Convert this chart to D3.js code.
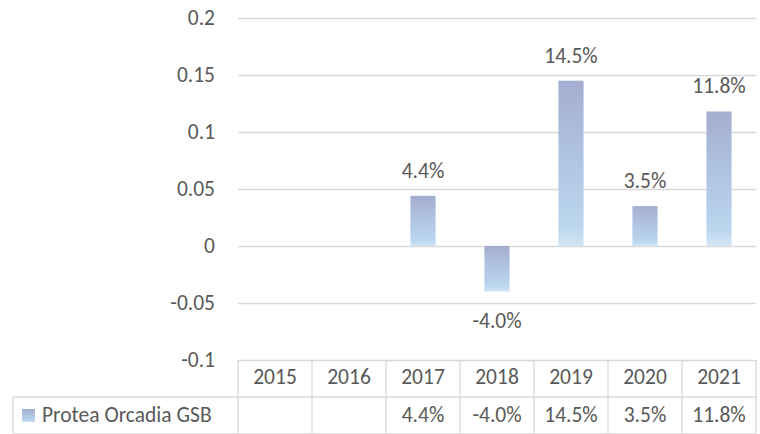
<!DOCTYPE html>
<html>
<head>
<meta charset="utf-8">
<script src="https://cdn.jsdelivr.net/npm/d3@7"></script>
<style>
  html, body { margin: 0; padding: 0; background: #fff; }
  svg text { font-family: Carlito, Calibri, "Open Sans", sans-serif; fill: #595959; }
  .grid line { stroke: #d9d9d9; stroke-width: 1.3; }
  .table-line { stroke: #d9d9d9; stroke-width: 1.3; }
</style>
</head>
<body>
<svg id="chart" width="760" height="434"></svg>
<script>
// chart data
const years = ['2015', '2016', '2017', '2018', '2019', '2020', '2021'];
const returns = [null, null, 0.044, -0.040, 0.145, 0.035, 0.118];
const yTicks = [0.2, 0.15, 0.1, 0.05, 0, -0.05, -0.1];
const seriesName = 'Protea Orcadia GSB';

const svg = d3.select('#chart');

// plot box
const plotLeft = 238, plotRight = 756, plotTop = 18, plotBottom = 360;
const rowH = 37;
const fontSize = 21.5;

const pct = d3.formatLocale({
  decimal: '.', thousands: ',', grouping: [3], currency: ['', ''], minus: '-'
}).format('.1%');

const x = d3.scaleBand().domain(years).range([plotLeft, plotRight])
  .paddingInner(0.66).paddingOuter(0.33);
const xCol = d3.scaleBand().domain(years).range([plotLeft, plotRight]);
const y = d3.scaleLinear().domain([-0.1, 0.2]).range([plotBottom, plotTop]);

// gradient for bars
const defs = svg.append('defs');
const grad = defs.append('linearGradient')
  .attr('id', 'barGrad')
  .attr('x1', 0).attr('y1', 0).attr('x2', 0).attr('y2', 1);
grad.append('stop').attr('offset', '0%').attr('stop-color', '#a4adcf');
grad.append('stop').attr('offset', '45%').attr('stop-color', '#afc3e3');
grad.append('stop').attr('offset', '88%').attr('stop-color', '#bbd6ee');
grad.append('stop').attr('offset', '100%').attr('stop-color', '#d3e5f5');

// y axis with gridlines
const yAxis = svg.append('g')
  .attr('class', 'grid')
  .attr('transform', `translate(${plotLeft},0)`)
  .call(d3.axisLeft(y)
    .tickValues(yTicks)
    .tickSize(-(plotRight - plotLeft))
    .tickPadding(23)
    .tickFormat(d => String(d)));
yAxis.select('.domain').remove();
yAxis.selectAll('text')
  .style('font-size', fontSize + 'px')
  .attr('fill', null);

// bars
const data = years.map((yr, i) => ({ year: yr, value: returns[i] }))
  .filter(d => d.value !== null);

svg.append('g').selectAll('rect').data(data)
  .enter().append('rect')
    .attr('x', d => x(d.year))
    .attr('width', x.bandwidth())
    .attr('y', d => y(Math.max(0, d.value)))
    .attr('height', d => Math.abs(y(d.value) - y(0)))
    .attr('fill', 'url(#barGrad)');

// data labels
svg.append('g').selectAll('text').data(data)
  .enter().append('text')
    .attr('x', d => x(d.year) + x.bandwidth() / 2)
    .attr('y', d => d.value >= 0 ? y(d.value) - 18 : y(d.value) + 36)
    .attr('text-anchor', 'middle')
    .style('font-size', fontSize + 'px')
    .text(d => pct(d.value));

// data table
const table = svg.append('g');
const row1 = plotBottom, row2 = plotBottom + rowH, row3 = plotBottom + 2 * rowH;
const legendLeft = 13;

table.append('line').attr('class', 'table-line')
  .attr('x1', legendLeft).attr('x2', plotRight).attr('y1', row2).attr('y2', row2);
table.append('line').attr('class', 'table-line')
  .attr('x1', legendLeft).attr('x2', plotRight).attr('y1', row3).attr('y2', row3);
table.append('line').attr('class', 'table-line')
  .attr('x1', legendLeft).attr('x2', legendLeft).attr('y1', row2).attr('y2', row3);

const edges = years.map(yr => xCol(yr)).concat([plotRight]);
table.selectAll('line.col').data(edges)
  .enter().append('line')
    .attr('class', 'table-line col')
    .attr('x1', d => d).attr('x2', d => d)
    .attr('y1', row1).attr('y2', row3);

table.selectAll('text.year').data(years)
  .enter().append('text')
    .attr('class', 'year')
    .attr('x', d => xCol(d) + xCol.bandwidth() / 2)
    .attr('y', row1 + 24)
    .attr('text-anchor', 'middle')
    .style('font-size', fontSize + 'px')
    .text(d => d);

table.selectAll('text.val').data(years.map((yr, i) => ({ year: yr, value: returns[i] })))
  .enter().append('text')
    .attr('class', 'val')
    .attr('x', d => xCol(d.year) + xCol.bandwidth() / 2)
    .attr('y', row2 + 25)
    .attr('text-anchor', 'middle')
    .style('font-size', fontSize + 'px')
    .text(d => d.value === null ? '' : pct(d.value));

// legend key in table
table.append('rect')
  .attr('x', 22).attr('y', row2 + 12)
  .attr('width', 13).attr('height', 13)
  .attr('fill', 'url(#barGrad)');
table.append('text')
  .attr('x', 42).attr('y', row2 + 25)
  .style('font-size', fontSize + 'px')
  .text(seriesName);
</script>
</body>
</html>
